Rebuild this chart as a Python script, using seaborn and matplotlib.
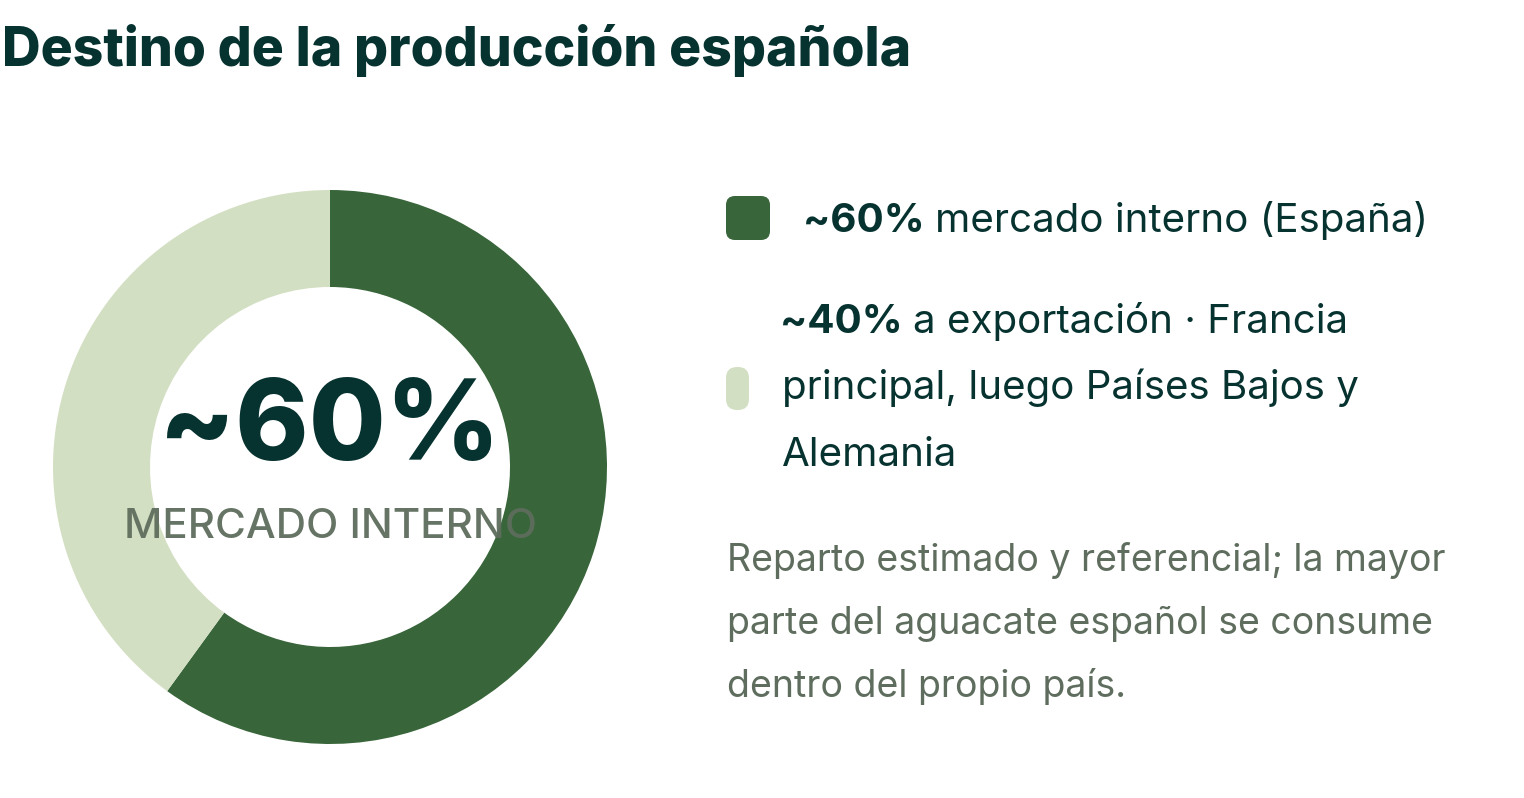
import matplotlib
matplotlib.use("Agg")
import matplotlib.pyplot as plt
import seaborn as sns
from matplotlib.patches import FancyBboxPatch

# Data
categories = ["mercado interno (España)", "exportación"]
shares = [60, 40]
share_labels = ["~60%", "~40%"]
legend_rest = [
    ["mercado interno (España)"],
    ["a exportación · Francia", "principal, luego Países Bajos y", "Alemania"],
]
note_lines = [
    "Reparto estimado y referencial; la mayor",
    "parte del aguacate español se consume",
    "dentro del propio país.",
]
title = "Destino de la producción española"
center_big = "~60%"
center_small = "MERCADO INTERNO"

sns.set_theme(style="white")
plt.rcParams["font.family"] = ["Inter", "DejaVu Sans"]

dark_green = "#386539"
light_green = "#d3dfc2"
ink = "#06322f"
grey = "#5e6d5d"
palette = sns.color_palette([dark_green, light_green])

W, H = 1524, 798
fig = plt.figure(figsize=(W / 100, H / 100), dpi=100, facecolor="white")

# donut
cx, cy, r_out, r_in = 330, 467, 277, 180
ax = fig.add_axes([(cx - r_out) / W, (H - cy - r_out) / H, 2 * r_out / W, 2 * r_out / H])
ax.pie(shares, colors=palette, startangle=90, counterclock=False, radius=1,
       wedgeprops=dict(width=(r_out - r_in) / r_out, linewidth=0))
ax.set_xlim(-1, 1)
ax.set_ylim(-1, 1)
ax.set_aspect("equal")
ax.axis("off")

# overlay in pixel coords (y down)
ov = fig.add_axes([0, 0, 1, 1])
ov.set_xlim(0, W)
ov.set_ylim(H, 0)
ov.axis("off")
ov.patch.set_visible(False)

ov.text(2, 66, title, fontsize=38.5, fontweight=800, color=ink, va="baseline", ha="left")

ov.text(cx, 460, center_big, fontsize=80, fontweight=800, color=ink, va="baseline", ha="center")
ov.text(cx, 538, center_small, fontsize=30.3, fontweight="medium", color=grey,
        va="baseline", ha="center", alpha=0.95)

fig.canvas.draw()
renderer = fig.canvas.get_renderer()


def mixed(x, y, bold, rest, size):
    t = ov.text(x, y, bold, fontsize=size, fontweight="bold", color=ink, va="baseline", ha="left")
    bb = t.get_window_extent(renderer=renderer)
    ov.text(bb.x1 + 10, y, rest, fontsize=size, color=ink, va="baseline", ha="left")


fs = 29
# legend item 1
ov.add_patch(FancyBboxPatch((726, 196), 44, 44, boxstyle="round,pad=0,rounding_size=9",
                            facecolor=palette[0], edgecolor="none"))
mixed(803, 232, share_labels[0], legend_rest[0][0], fs)

# legend item 2
ov.add_patch(FancyBboxPatch((726, 367), 23, 43, boxstyle="round,pad=0,rounding_size=11",
                            facecolor=palette[1], edgecolor="none"))
base_y = [333, 399, 466]
mixed(780, base_y[0], share_labels[1], legend_rest[1][0], fs)
for yy, line in zip(base_y[1:], legend_rest[1][1:]):
    ov.text(782, yy, line, fontsize=fs, color=ink, va="baseline", ha="left")

# note
for yy, line in zip([571, 634, 697], note_lines):
    ov.text(727, yy, line, fontsize=27, color=grey, va="baseline", ha="left")

fig.savefig("out.png", dpi=100, facecolor="white")
